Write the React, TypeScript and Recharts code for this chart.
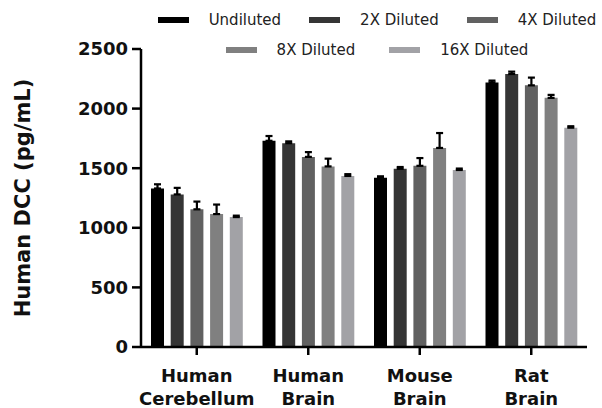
import React from 'react';
import { BarChart, Bar, XAxis, YAxis, ErrorBar, Legend } from 'recharts';

const categories = ['Human\nCerebellum', 'Human\nBrain', 'Mouse\nBrain', 'Rat\nBrain'];
const seriesNames = ['Undiluted', '2X Diluted', '4X Diluted', '8X Diluted', '16X Diluted'];
const seriesColors = ['#000000', '#353535', '#616161', '#808080', '#a2a2a6'];

const undiluted = [1330, 1730, 1420, 2220];
const undilutedErr = [35, 40, 12, 15];
const diluted2x = [1280, 1710, 1495, 2290];
const diluted2xErr = [55, 15, 15, 20];
const diluted4x = [1155, 1595, 1520, 2195];
const diluted4xErr = [65, 40, 65, 65];
const diluted8x = [1115, 1515, 1670, 2090];
const diluted8xErr = [80, 65, 125, 25];
const diluted16x = [1090, 1435, 1485, 1840];
const diluted16xErr = [12, 15, 12, 12];

const yTicks = [0, 500, 1000, 1500, 2000, 2500];

const allValues = [undiluted, diluted2x, diluted4x, diluted8x, diluted16x];
const allErrors = [undilutedErr, diluted2xErr, diluted4xErr, diluted8xErr, diluted16xErr];

const data = categories.map((c, i) => {
  const row: any = { name: c };
  allValues.forEach((arr, s) => {
    row['s' + s] = arr[i];
    row['e' + s] = [0, allErrors[s][i]];
  });
  return row;
});

const FONT = '"DejaVu Sans", sans-serif';

const XTick = (props: any) => {
  const { x, y, payload } = props;
  const lines = String(payload.value).split('\n');
  return (
    <g transform={`translate(${x},${y})`}>
      <text textAnchor="middle" fontFamily={FONT} fontWeight="bold" fontSize={18} fill="#111">
        {lines.map((l, i) => (
          <tspan key={i} x={0} dy={i === 0 ? 25 : 23}>{l}</tspan>
        ))}
      </text>
    </g>
  );
};

const renderLegend = () => {
  const item = (i: number, gapAfter: number) => (
    <div key={i} style={{ display: 'flex', alignItems: 'center', marginRight: gapAfter }}>
      <div style={{ width: 31, height: 6, background: seriesColors[i], marginRight: 20 }} />
      <span style={{ fontFamily: FONT, fontSize: 15, color: '#222', whiteSpace: 'nowrap' }}>{seriesNames[i]}</span>
    </div>
  );
  return (
    <div style={{ position: 'relative', width: 450, height: 65 }}>
      <div style={{ position: 'absolute', top: 5, left: 0, width: 450, height: 30, display: 'flex', justifyContent: 'center', alignItems: 'center' }}>
        {item(0, 28)}{item(1, 28)}{item(2, 0)}
      </div>
      <div style={{ position: 'absolute', top: 35, left: 0, width: 450, height: 30, display: 'flex', justifyContent: 'center', alignItems: 'center' }}>
        {item(3, 34)}{item(4, 0)}
      </div>
    </div>
  );
};

const YLabel = (props: any) => {
  const vb = props.viewBox || {};
  const cy = (vb.y || 0) + (vb.height || 0) / 2;
  const cx = 30;
  return (
    <text x={cx} y={cy} transform={`rotate(-90, ${cx}, ${cy})`} textAnchor="middle" fontFamily={FONT} fontWeight="bold" fontSize={21} fill="#111">
      Human DCC (pg/mL)
    </text>
  );
};

export default function App() {
  return (
    <div style={{ position: 'absolute', left: 0, top: 0, width: 602, height: 408, background: '#fff' }}>
      <BarChart
        width={602}
        height={408}
        data={data}
        margin={{ top: 49, right: 15, left: 0, bottom: 0 }}
        barSize={13}
        barGap={6.7}
      >
        <XAxis
          dataKey="name"
          height={61}
          tick={<XTick />}
          tickSize={8}
          tickMargin={2}
          interval={0}
          axisLine={{ stroke: '#000', strokeWidth: 2.5 }}
          tickLine={{ stroke: '#000', strokeWidth: 2.5 }}
        />
        <YAxis
          width={141}
          domain={[0, 2500]}
          ticks={yTicks}
          interval={0}
          tickSize={9}
          tickMargin={4}
          axisLine={{ stroke: '#000', strokeWidth: 2.5 }}
          tickLine={{ stroke: '#000', strokeWidth: 2.5 }}
          tick={{ fontFamily: FONT, fontWeight: 'bold', fontSize: 18, fill: '#111' }}
          label={<YLabel />}
        />
        <Legend
          verticalAlign="middle"
          content={renderLegend}
          wrapperStyle={{ top: 0, left: 152, width: 450, height: 65 }}
        />
        {seriesNames.map((n, s) => (
          <Bar key={n} dataKey={'s' + s} name={n} fill={seriesColors[s]} isAnimationActive={false}>
            <ErrorBar dataKey={'e' + s} width={3.5} stroke="#000" strokeWidth={2.2} direction="y" />
          </Bar>
        ))}
      </BarChart>
    </div>
  );
}
